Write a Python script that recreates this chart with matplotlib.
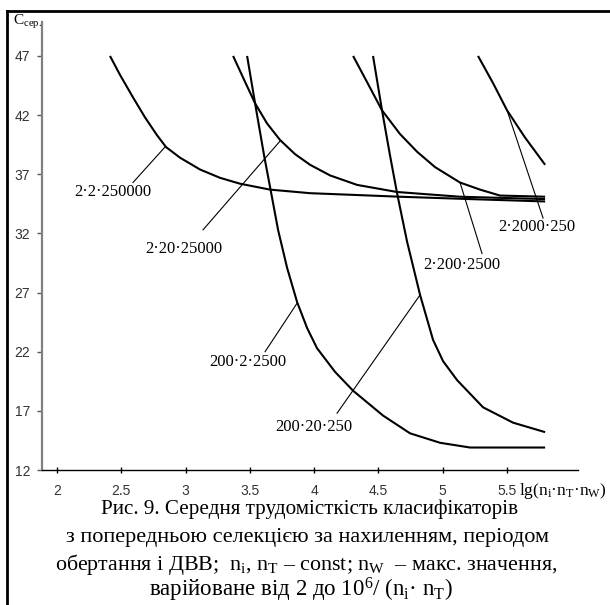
import matplotlib
matplotlib.use("Agg")
import matplotlib.pyplot as plt
from matplotlib.lines import Line2D

plt.rcParams['mathtext.fontset'] = 'custom'
plt.rcParams['mathtext.rm'] = 'Liberation Serif'
plt.rcParams['mathtext.it'] = 'Liberation Serif:italic'
plt.rcParams['mathtext.bf'] = 'Liberation Serif:bold'

# ---- data ----
x_2_2_250000 = [2.412, 2.490, 2.591, 2.685, 2.778, 2.848, 2.957, 3.113, 3.268, 3.424, 3.658, 3.969, 4.669, 5.214, 5.798]
y_2_2_250000 = [47.0, 45.4, 43.5, 41.8, 40.3, 39.3, 38.4, 37.4, 36.7, 36.2, 35.7, 35.4, 35.1, 34.9, 34.7]

x_2_20_25000 = [3.370, 3.455, 3.541, 3.634, 3.735, 3.852, 3.969, 4.125, 4.335, 4.646, 5.136, 5.798]
y_2_20_25000 = [47.0, 45.0, 43.0, 41.3, 39.9, 38.7, 37.8, 36.9, 36.1, 35.5, 35.1, 34.9]

x_2_200_2500 = [4.304, 4.412, 4.529, 4.669, 4.802, 4.942, 5.136, 5.292, 5.447, 5.798]
y_2_200_2500 = [47.0, 44.8, 42.4, 40.4, 38.9, 37.6, 36.3, 35.7, 35.2, 35.1]

x_2_2000_250 = [5.276, 5.393, 5.502, 5.642, 5.798]
y_2_2000_250 = [47.0, 44.7, 42.4, 40.1, 37.8]

x_200_2_2500 = [3.479, 3.541, 3.611, 3.665, 3.720, 3.790, 3.868, 3.946, 4.023, 4.163, 4.304, 4.537, 4.747, 4.981, 5.214, 5.798]
y_200_2_2500 = [47.0, 43.0, 38.6, 35.5, 32.3, 29.1, 26.2, 24.0, 22.3, 20.3, 18.7, 16.6, 15.1, 14.3, 13.9, 13.9]

x_200_20_250 = [4.459, 4.529, 4.591, 4.646, 4.724, 4.825, 4.926, 5.004, 5.113, 5.315, 5.549, 5.798]
y_200_20_250 = [47.0, 42.4, 38.6, 35.4, 31.3, 26.8, 23.0, 21.2, 19.6, 17.3, 16.0, 15.2]

series_names = ["2·2·250000", "2·20·25000", "2·200·2500", "2·2000·250", "200·2·2500", "200·20·250"]
series_x = [x_2_2_250000, x_2_20_25000, x_2_200_2500, x_2_2000_250, x_200_2_2500, x_200_20_250]
series_y = [y_2_2_250000, y_2_20_25000, y_2_200_2500, y_2_2000_250, y_200_2_2500, y_200_20_250]

# label text position, leader start, leader end (data coords)
label_xy = [(2.436, 35.5), (2.988, 30.7), (5.152, 29.3), (5.735, 32.5), (3.486, 21.1), (4.00, 15.6)]
leader_from = [(2.591, 36.3), (3.136, 32.3), (5.307, 30.3), (5.782, 33.3), (3.619, 22.0), (4.179, 16.8)]
leader_to = [(2.840, 39.3), (3.735, 39.8), (5.136, 36.3), (5.502, 42.4), (3.868, 26.1), (4.825, 26.8)]

x_ticks = [2, 2.5, 3, 3.5, 4, 4.5, 5, 5.5]
x_tick_labels = ["2", "2.5", "3", "3.5", "4", "4.5", "5", "5.5"]
y_ticks = [12, 17, 22, 27, 32, 37, 42, 47]
y_tick_labels = ["12", "17", "22", "27", "32", "37", "42", "47"]

caption_lines = [
    "Рис. 9. Середня трудомісткість класифікаторів",
    "з попередньою селекцією за нахиленням, періодом",
    "обертання і ДВВ;  n$_{\\rm i}$, n$_{\\rm T}$ – const; n$_{\\rm W}$  – макс. значення,",
    "варійоване від 2 до 10$^{6}$/ (n$_{\\rm i}$· n$_{\\rm T}$)",
]

# ---- figure ----
W, H = 610, 605
fig = plt.figure(figsize=(W / 100, H / 100), dpi=100)
ax = fig.add_axes([42 / W, 1 - 470 / H, (578 - 42) / W, (470 - 22) / H])
ax.set_xlim(1.883, 6.054)
ax.set_ylim(12, 49.87)

for xs, ys in zip(series_x, series_y):
    ax.plot(xs, ys, color='black', lw=1.5, solid_joinstyle='round', solid_capstyle='butt')

serif = 'Liberation Serif'
sans = 'Liberation Sans'
for name, (tx, ty), (fx, fy), (ex, ey) in zip(series_names, label_xy, leader_from, leader_to):
    ax.plot([fx, ex], [fy, ey], color='black', lw=0.8)
    ax.text(tx, ty, name, family=serif, fontsize=12, ha='center', va='center')

ax.set_xticks(x_ticks)
ax.set_xticklabels(x_tick_labels, family=sans, fontsize=10, color='#333333')
ax.set_yticks(y_ticks)
ax.set_yticklabels(y_tick_labels, family=sans, fontsize=10, color='#333333')
ax.tick_params(axis='x', direction='inout', length=4, width=1, pad=8, color='black')
ax.tick_params(axis='y', direction='out', length=3.5, width=1, pad=5, color='#555555')

for s in ('top', 'right'):
    ax.spines[s].set_visible(False)
ax.spines['left'].set_color('#808080')
ax.spines['left'].set_linewidth(1.6)
ax.spines['bottom'].set_color('black')
ax.spines['bottom'].set_linewidth(1.0)

# axis labels
fig.text(13 / W, 1 - 22 / H, "C$_{\\rm сер.}$", family=serif, fontsize=11, ha='left', va='center')
fig.text(519 / W, 1 - 491 / H, "lg(n$_{\\rm i}$·n$_{\\rm T}$·n$_{\\rm W}$)", family=serif, fontsize=12.5,
         ha='left', va='center')

# caption
baselines = [514, 542, 570, 597]
centers = [310, 307, 306, 301]
sizes = [15.2, 16, 15.8, 16.5]
for line, b, c, fs in zip(caption_lines, baselines, centers, sizes):
    fig.text(c / W, 1 - b / H, line, family=serif, fontsize=fs, ha='center', va='baseline')

# frame (left and top edges)
fig.add_artist(Line2D([7 / W, 7 / W], [0, 1 - 11 / H], color='black', lw=2, transform=fig.transFigure))
fig.add_artist(Line2D([7 / W, 1], [1 - 11 / H, 1 - 11 / H], color='black', lw=2, transform=fig.transFigure))

fig.savefig("out.png", dpi=100)
